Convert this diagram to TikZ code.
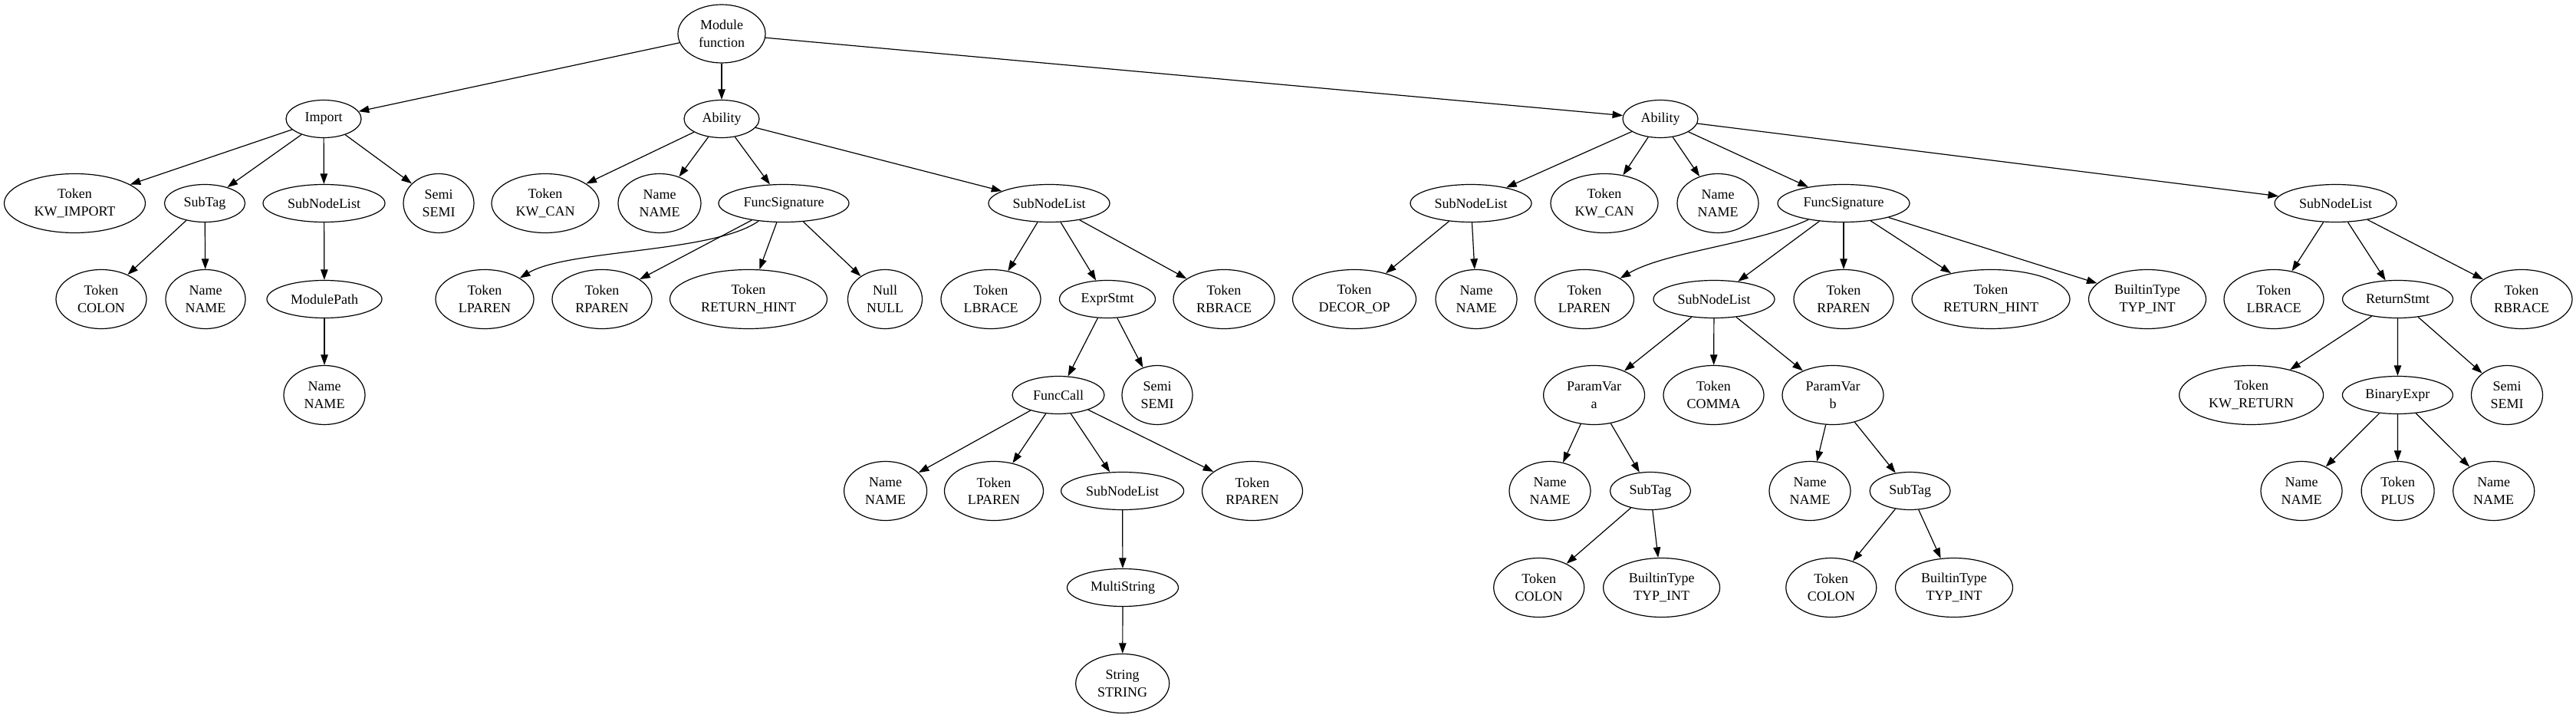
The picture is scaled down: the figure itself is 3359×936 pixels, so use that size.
\documentclass[tikz,border=0pt]{standalone}
\usepackage{fontspec}
\setmainfont{Liberation Serif}
\usetikzlibrary{shapes.geometric,arrows.meta}
\tikzset{
  nd/.style 2 args={draw, ellipse, line width=1.2pt, inner sep=0pt, minimum width=#1pt, minimum height=#2pt, align=center, font=\fontsize{18}{22.5}\selectfont},
  one/.style={nd={#1}{49}},
  two/.style={nd={#1}{77}},
  ed/.style={-{Triangle[length=13.6pt,width=9.5pt]}, line width=1.2pt}
}
\begin{document}
\begin{tikzpicture}[x=1pt,y=-1pt]
\useasboundingbox (0,0) rectangle (3359,936);
% row 1
\node[nd={114}{76}] (m) at (941,44) {Module\\function};
% row 2
\node[one=98] (imp) at (422,155) {Import};
\node[one=98] (ab1) at (941,155) {Ability};
\node[one=98] (ab2) at (2165,155) {Ability};
% row 3
\node[two=184] (kwimp) at (97.5,265) {Token\\KW\_IMPORT};
\node[one=105] (st1) at (267,265) {SubTag};
\node[one=159] (snl1) at (422.5,265) {SubNodeList};
\node[two=92] (semi1) at (572,265) {Semi\\SEMI};
\node[two=140] (kwcan1) at (711,265) {Token\\KW\_CAN};
\node[two=108] (name1) at (860,265) {Name\\NAME};
\node[one=170] (fs1) at (1022,265) {FuncSignature};
\node[one=158] (snl2) at (1368,265) {SubNodeList};
\node[one=158] (snl3) at (1918,265) {SubNodeList};
\node[two=140] (kwcan2) at (2092,265) {Token\\KW\_CAN};
\node[two=106] (name2) at (2240,265) {Name\\NAME};
\node[one=172] (fs2) at (2404,265) {FuncSignature};
\node[one=159] (snl4) at (3045.5,265) {SubNodeList};
% row 4
\node[two=118] (colon1) at (132,390) {Token\\COLON};
\node[two=104] (name3) at (268,390) {Name\\NAME};
\node[one=150] (mp) at (423,390) {ModulePath};
\node[two=128] (lp1) at (632,390) {Token\\LPAREN};
\node[two=130] (rp1) at (785,390) {Token\\RPAREN};
\node[two=205] (rh1) at (976,390) {Token\\RETURN\_HINT};
\node[two=97] (null) at (1154,390) {Null\\NULL};
\node[two=130] (lb1) at (1292,390) {Token\\LBRACE};
\node[one=125] (es) at (1444,390) {ExprStmt};
\node[two=132] (rb1) at (1596,390) {Token\\RBRACE};
\node[two=161] (decor) at (1766,390) {Token\\DECOR\_OP};
\node[two=106] (name4) at (1925,390) {Name\\NAME};
\node[two=129] (lp2) at (2066,390) {Token\\LPAREN};
\node[one=158] (snl5) at (2235,390) {SubNodeList};
\node[two=130] (rp2) at (2404,390) {Token\\RPAREN};
\node[two=206] (rh2) at (2596,390) {Token\\RETURN\_HINT};
\node[two=153] (bt1) at (2800,390) {BuiltinType\\TYP\_INT};
\node[two=130] (lb2) at (2965,390) {Token\\LBRACE};
\node[one=144] (rs) at (3126.5,390) {ReturnStmt};
\node[two=132] (rb2) at (3288,390) {Token\\RBRACE};
% row 5
\node[two=106] (name5) at (423,515) {Name\\NAME};
\node[one=120] (fc) at (1380,515) {FuncCall};
\node[two=92] (semi2) at (1509,515) {Semi\\SEMI};
\node[two=132] (pva) at (2078.6,515) {ParamVar\\a};
\node[two=131] (comma) at (2234.5,515) {Token\\COMMA};
\node[two=132] (pvb) at (2390,515) {ParamVar\\b};
\node[two=188] (kwret) at (2935.6,515) {Token\\KW\_RETURN};
\node[one=144] (be) at (3126.4,515) {BinaryExpr};
\node[two=93] (semi3) at (3269,515) {Semi\\SEMI};
% row 6
\node[two=108] (name6) at (1154.6,640) {Name\\NAME};
\node[two=129] (lp3) at (1296,640) {Token\\LPAREN};
\node[one=160] (snl6) at (1463.6,640) {SubNodeList};
\node[two=131] (rp3) at (1633,640) {Token\\RPAREN};
\node[two=106] (name7) at (2021,640) {Name\\NAME};
\node[one=105] (st2) at (2152,640) {SubTag};
\node[two=106] (name8) at (2360,640) {Name\\NAME};
\node[one=105] (st3) at (2490.6,640) {SubTag};
\node[two=106] (name9) at (3001,640) {Name\\NAME};
\node[two=95] (plus) at (3126.6,640) {Token\\PLUS};
\node[two=106] (name10) at (3251.7,640) {Name\\NAME};
% row 7
\node[one=145] (ms) at (1464,766) {MultiString};
\node[two=118] (colon2) at (2006.7,766) {Token\\COLON};
\node[two=152] (bt2) at (2166.6,766) {BuiltinType\\TYP\_INT};
\node[two=118] (colon3) at (2387.8,766) {Token\\COLON};
\node[two=153] (bt3) at (2548,766) {BuiltinType\\TYP\_INT};
% row 8
\node[two=122] (str) at (1463.7,891) {String\\STRING};
% edges
\foreach \a/\b in {m/imp, m/ab1, m/ab2,
  imp/kwimp, imp/st1, imp/snl1, imp/semi1,
  st1/colon1, st1/name3, snl1/mp, mp/name5,
  ab1/kwcan1, ab1/name1, ab1/fs1, ab1/snl2,
  fs1/rp1, fs1/rh1, fs1/null,
  snl2/lb1, snl2/es, snl2/rb1,
  es/fc, es/semi2,
  fc/name6, fc/lp3, fc/snl6, fc/rp3,
  snl6/ms, ms/str,
  ab2/snl3, ab2/kwcan2, ab2/name2, ab2/fs2, ab2/snl4,
  snl3/decor, snl3/name4,
  fs2/snl5, fs2/rp2, fs2/rh2, fs2/bt1,
  snl5/pva, snl5/comma, snl5/pvb,
  pva/name7, pva/st2, st2/colon2, st2/bt2,
  pvb/name8, pvb/st3, st3/colon3, st3/bt3,
  snl4/lb2, snl4/rs, snl4/rb2,
  rs/kwret, rs/be, rs/semi3,
  be/name9, be/plus, be/name10}
  \draw[ed] (\a) -- (\b);
\draw[ed] (fs1) .. controls (930,330) and (740,325) .. (lp1);
\draw[ed] (fs2) .. controls (2290,318) and (2172,328) .. (lp2);
\end{tikzpicture}
\end{document}
